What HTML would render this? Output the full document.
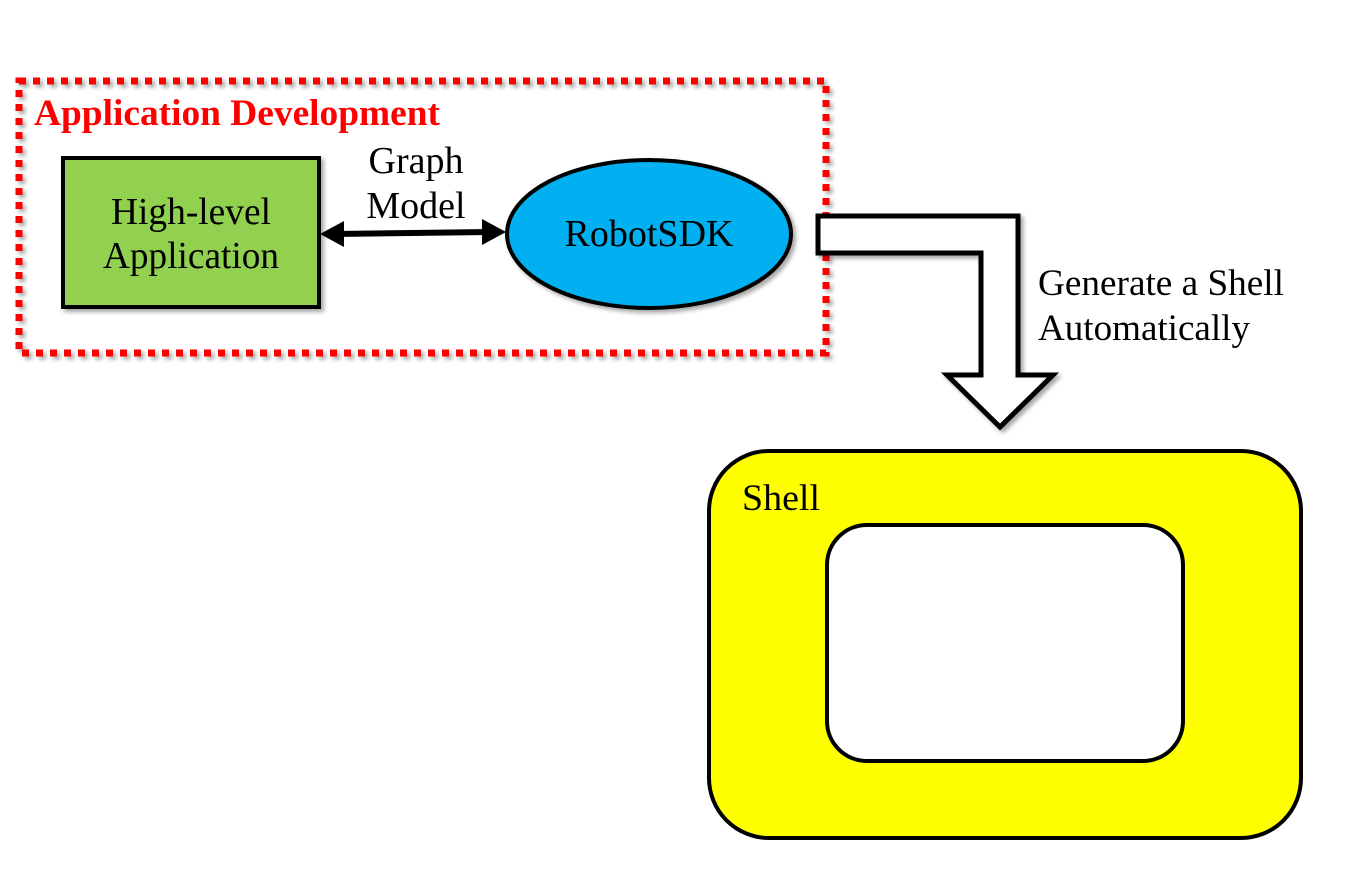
<!DOCTYPE html>
<html><head><style>body{margin:0;background:#fff}svg{display:block}</style></head><body>
<svg width="1350" height="885" viewBox="0 0 1350 885" xmlns="http://www.w3.org/2000/svg" font-family="Liberation Serif, serif">
<defs><filter id="sh" x="-10%" y="-10%" width="130%" height="130%"><feDropShadow dx="3" dy="3" stdDeviation="2" flood-color="#000" flood-opacity="0.35"/></filter></defs>
<rect x="19" y="81" width="807" height="272" fill="none" stroke="#f00" stroke-width="7" stroke-dasharray="7,7" filter="url(#sh)"/>
<text x="34" y="125" font-size="37" font-weight="bold" fill="#f00" textLength="406" lengthAdjust="spacingAndGlyphs">Application Development</text>
<rect x="63" y="158" width="256" height="149" fill="#92d050" stroke="#000" stroke-width="4" filter="url(#sh)"/>
<text x="191" y="224" font-size="38" text-anchor="middle" textLength="160" lengthAdjust="spacingAndGlyphs">High-level</text>
<text x="191" y="268" font-size="38" text-anchor="middle" textLength="176" lengthAdjust="spacingAndGlyphs">Application</text>
<line x1="335" y1="234" x2="490" y2="232" stroke="#000" stroke-width="6"/>
<polygon points="320,234 344,221 344,247" fill="#000"/>
<polygon points="506,232 482,219 482,245" fill="#000"/>
<text x="416" y="173" font-size="38" text-anchor="middle">Graph</text>
<text x="416" y="218" font-size="38" text-anchor="middle">Model</text>
<ellipse cx="649" cy="234" rx="142" ry="74" fill="#00b0f0" stroke="#000" stroke-width="4" filter="url(#sh)"/>
<text x="649" y="246" font-size="38" text-anchor="middle">RobotSDK</text>
<polygon points="818,216 1018,216 1018,375 1053,375 1000,427 947,375 981,375 981,253 818,253" fill="#fff" stroke="#000" stroke-width="5" filter="url(#sh)"/>
<text x="1038" y="295" font-size="37" textLength="246" lengthAdjust="spacingAndGlyphs">Generate a Shell</text>
<text x="1038" y="340" font-size="37" textLength="212" lengthAdjust="spacingAndGlyphs">Automatically</text>
<rect x="709" y="451" width="592" height="387" rx="60" fill="#ffff00" stroke="#000" stroke-width="4"/>
<text x="742" y="510" font-size="37" textLength="78" lengthAdjust="spacingAndGlyphs">Shell</text>
<rect x="827" y="525" width="356" height="236" rx="40" fill="#fff" stroke="#000" stroke-width="4"/>
</svg>
</body></html>
